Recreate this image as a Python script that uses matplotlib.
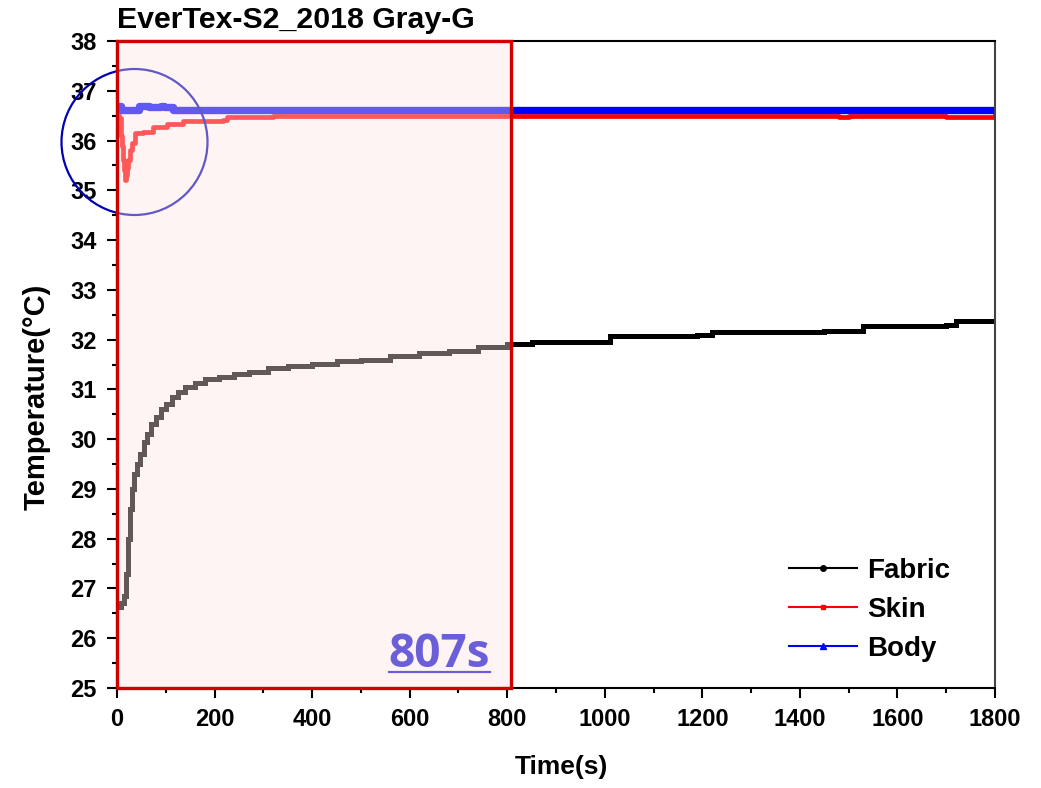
import matplotlib
matplotlib.use("Agg")
import matplotlib.pyplot as plt
from matplotlib.patches import Rectangle, Ellipse
from matplotlib.lines import Line2D
from matplotlib.ticker import MultipleLocator

plt.rcParams['font.family'] = ['Liberation Sans', 'DejaVu Sans']
plt.rcParams['font.weight'] = 'bold'

# ---- data ----
fabric_t = [0, 8, 14, 18, 22, 26, 30, 35, 40, 47, 55, 62, 70, 80, 90, 100, 112, 125, 140,
            160, 180, 210, 240, 270, 310, 350, 400, 450, 500, 560, 620, 680, 740, 800,
            850, 900, 990, 1010, 1190, 1220, 1450, 1530, 1700, 1720, 1800]
fabric_T = [26.62, 26.70, 26.85, 27.3, 28.0, 28.6, 29.0, 29.3, 29.5, 29.7, 29.95, 30.1, 30.3,
            30.45, 30.6, 30.7, 30.85, 30.95, 31.05, 31.12, 31.2, 31.25, 31.3, 31.35, 31.42,
            31.47, 31.52, 31.57, 31.6, 31.68, 31.74, 31.78, 31.85, 31.92, 31.95, 31.95,
            31.95, 32.07, 32.1, 32.15, 32.17, 32.28, 32.3, 32.37, 32.37]

skin_t = [0, 5, 8, 10, 12, 14, 16, 18, 20, 23, 26, 30, 37, 54, 74, 102, 136, 180, 217,
          225, 307, 320, 1450, 1480, 1500, 1600, 1700, 1800]
skin_T = [36.51, 36.45, 36.1, 35.9, 35.6, 35.4, 35.21, 35.3, 35.45, 35.6, 35.8, 35.95,
          36.15, 36.18, 36.28, 36.34, 36.4, 36.4, 36.42, 36.47, 36.47, 36.5, 36.5, 36.47,
          36.5, 36.5, 36.48, 36.5]

body_t = [0, 8, 45, 60, 66, 90, 96, 115, 1800]
body_T = [36.70, 36.62, 36.70, 36.70, 36.68, 36.70, 36.68, 36.62, 36.62]

x_ticks = list(range(0, 1801, 200))
y_ticks = list(range(25, 39))
marked_time = 807
marked_label = "807s"
title_text = "EverTex-S2_2018 Gray-G"

W, H = 1041, 788

# ---- figure ----
fig = plt.figure(figsize=(W/100, H/100), dpi=100)
ax = fig.add_axes([117/W, 1-688/H, (995-117)/W, (688-41)/H])

ax.plot(fabric_t, fabric_T, color='black', lw=3.6, drawstyle='steps-post', zorder=2,
        solid_joinstyle='miter')
ax.plot(skin_t, skin_T, color='#ff0000', lw=3.4, drawstyle='steps-post', zorder=2.1)
ax.plot(body_t, body_T, color='#0000ff', lw=5.3, drawstyle='steps-post', zorder=2.2)

ax.set_xlim(0, 1800)
ax.set_ylim(25, 38)
ax.set_xticks(x_ticks)
ax.set_yticks(y_ticks)
ax.xaxis.set_minor_locator(MultipleLocator(100))
ax.yaxis.set_minor_locator(MultipleLocator(0.5))
ax.tick_params(which='major', direction='out', length=7.5, width=1.5, labelsize=17, pad=7)
ax.tick_params(which='minor', direction='out', length=3.8, width=1.5)
for lab in ax.get_xticklabels() + ax.get_yticklabels():
    lab.set_fontweight('bold')
for s in ax.spines.values():
    s.set_linewidth(1.5)
ax.spines['right'].set_color('#444444')

ax.set_xlabel('Time(s)', fontsize=19, fontweight='bold')
ax.xaxis.set_label_coords((561-117)/878, (688-755)/647)
ax.set_ylabel('Temperature(°C)', fontsize=21, fontweight='bold')
ax.yaxis.set_label_coords((51-117)/878, (688-397)/647)
ax.set_title(title_text, loc='left', fontsize=21.8, fontweight='bold', pad=9)

# highlight region
ax.add_patch(Rectangle((0, 25), marked_time, 13, facecolor=(1.0, 0.894, 0.894),
                       alpha=0.39, edgecolor='none', zorder=3))
ax.add_patch(Rectangle((0, 25), marked_time, 13, facecolor='none',
                       edgecolor='#d00000', lw=2.4, zorder=4, clip_on=False))

# circle (drawn below the overlay)
circ = Ellipse((134.5/W, 1-142/H), 146/W, 146/H, transform=fig.transFigure,
               facecolor='none', edgecolor='#0000b4', lw=1.6, zorder=2.5, clip_on=False)
ax.add_patch(circ)

txt = ax.text((490-117)/878, (688-667)/647, marked_label, transform=ax.transAxes,
              ha='right', va='baseline', fontsize=33, fontweight='bold',
              family=['Open Sans', 'DejaVu Sans'], color='#6a5fd8', zorder=6)
fig.canvas.draw()
bb = txt.get_window_extent()
inv = fig.transFigure.inverted()
(x0, y0), (x1, y1) = inv.transform([(bb.x0, bb.y0), (bb.x1, bb.y0)])
fig.add_artist(Line2D([x0, x1], [1-672/H, 1-672/H], transform=fig.transFigure,
                      color='#6a5fd8', lw=1.6, zorder=6))

handles = [Line2D([], [], color='black', lw=1.5, marker='o', ms=4),
           Line2D([], [], color='#ff0000', lw=1.5, marker='s', ms=3.5),
           Line2D([], [], color='#0000ff', lw=1.5, marker='^', ms=4.5)]
leg = ax.legend(handles, ['Fabric', 'Skin', 'Body'], loc='upper left',
                bbox_to_anchor=(789/W, 1-558/H), bbox_transform=fig.transFigure,
                frameon=False, borderpad=0, borderaxespad=0,
                prop={'weight': 'bold', 'size': 20}, handlelength=2.45,
                handletextpad=0.36, labelspacing=0.47)
leg.set_zorder(7)

fig.savefig('out.png', dpi=100)
